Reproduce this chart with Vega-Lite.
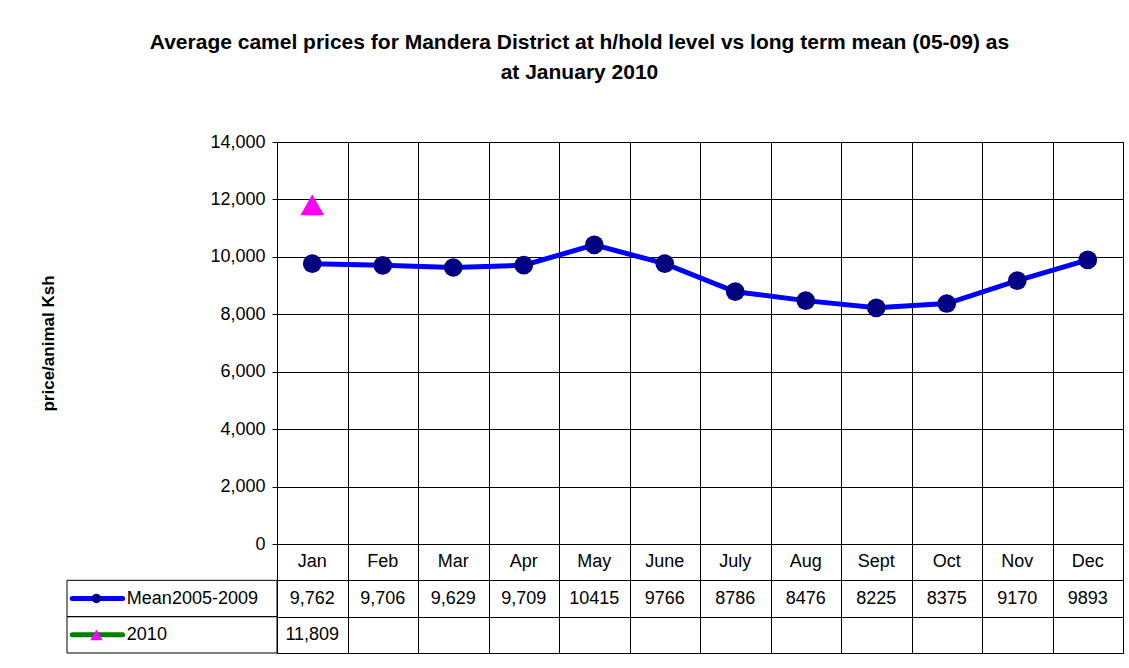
{
  "$schema": "https://vega.github.io/schema/vega-lite/v6.json",
  "background": "white",
  "padding": {"left": 39, "top": 31, "right": 4, "bottom": 2},
  "config": {
    "font": "Liberation Sans",
    "view": {"stroke": "black", "strokeWidth": 1},
    "axis": {"labelColor": "black", "titleColor": "black"}
  },
  "title": {
    "text": ["Average camel prices for Mandera District at h/hold level vs long term mean (05-09)  as", "at January 2010"],
    "font": "Liberation Sans",
    "fontSize": 21,
    "fontWeight": "bold",
    "color": "black",
    "lineHeight": 30,
    "anchor": "middle",
    "offset": 50,
    "dx": -2
  },
  "datasets": {
    "prices": [
      {"month": "Jan", "series": "Mean2005-2009", "value": 9762, "label": "9,762"},
      {"month": "Feb", "series": "Mean2005-2009", "value": 9706, "label": "9,706"},
      {"month": "Mar", "series": "Mean2005-2009", "value": 9629, "label": "9,629"},
      {"month": "Apr", "series": "Mean2005-2009", "value": 9709, "label": "9,709"},
      {"month": "May", "series": "Mean2005-2009", "value": 10415, "label": "10415"},
      {"month": "June", "series": "Mean2005-2009", "value": 9766, "label": "9766"},
      {"month": "July", "series": "Mean2005-2009", "value": 8786, "label": "8786"},
      {"month": "Aug", "series": "Mean2005-2009", "value": 8476, "label": "8476"},
      {"month": "Sept", "series": "Mean2005-2009", "value": 8225, "label": "8225"},
      {"month": "Oct", "series": "Mean2005-2009", "value": 8375, "label": "8375"},
      {"month": "Nov", "series": "Mean2005-2009", "value": 9170, "label": "9170"},
      {"month": "Dec", "series": "Mean2005-2009", "value": 9893, "label": "9893"},
      {"month": "Jan", "series": "2010", "value": 11809, "label": "11,809"}
    ]
  },
  "columns": 2,
  "spacing": {"row": 0, "column": 0},
  "bounds": "flush",
  "concat": [
    {
      "width": 210,
      "height": 402,
      "view": {"stroke": null},
      "data": {"values": []},
      "mark": "point",
      "encoding": {}
    },
    {
      "width": 846,
      "height": 402,
      "data": {"name": "prices"},
      "encoding": {
        "x": {
          "field": "month",
          "type": "nominal",
          "sort": ["Jan", "Feb", "Mar", "Apr", "May", "June", "July", "Aug", "Sept", "Oct", "Nov", "Dec"],
          "scale": {"domain": ["Jan", "Feb", "Mar", "Apr", "May", "June", "July", "Aug", "Sept", "Oct", "Nov", "Dec"], "paddingInner": 0, "paddingOuter": 0},
          "axis": {"labels": false, "ticks": false, "title": null, "domainColor": "black", "grid": true, "gridColor": "black", "gridOpacity": 1, "tickBand": "extent"}
        },
        "y": {
          "field": "value",
          "type": "quantitative",
          "scale": {"domain": [0, 14000], "nice": false},
          "axis": {
            "values": [0, 2000, 4000, 6000, 8000, 10000, 12000, 14000],
            "format": ",.0f",
            "title": "price/animal Ksh",
            "titleFontSize": 17,
            "titleFontWeight": "bold",
            "titlePadding": 152,
            "labelFontSize": 18,
            "labelPadding": 7,
            "tickSize": 5,
            "tickColor": "black",
            "domainColor": "black",
            "grid": true,
            "gridColor": "black",
            "gridOpacity": 1
          }
        }
      },
      "layer": [
        {
          "transform": [{"filter": "datum.series === 'Mean2005-2009'"}],
          "mark": {"type": "line", "color": "#0000FF", "strokeWidth": 5}
        },
        {
          "transform": [{"filter": "datum.series === 'Mean2005-2009'"}],
          "mark": {"type": "point", "shape": "circle", "filled": true, "color": "#000080", "size": 350, "opacity": 1}
        },
        {
          "transform": [{"filter": "datum.series === '2010'"}],
          "mark": {"type": "point", "shape": "triangle-up", "filled": true, "color": "#FF00FF", "size": 570, "opacity": 1}
        }
      ]
    },
    {
      "width": 210,
      "height": 109,
      "view": {"stroke": null},
      "data": {"name": "prices"},
      "transform": [{"filter": "datum.month === 'Jan'"}],
      "encoding": {
        "y": {
          "field": "series",
          "type": "nominal",
          "scale": {"domain": ["hdr", "Mean2005-2009", "2010"], "paddingInner": 0, "paddingOuter": 0},
          "axis": null
        }
      },
      "layer": [
        {
          "mark": {"type": "rect", "fillOpacity": 0, "stroke": "black", "strokeWidth": 1},
          "encoding": {
            "x": {"datum": 0, "type": "quantitative", "scale": {"domain": [0, 1]}, "axis": null},
            "x2": {"datum": 1}
          }
        },
        {
          "transform": [{"filter": "datum.series === 'Mean2005-2009'"}],
          "mark": {"type": "rule", "color": "#0000FF", "strokeWidth": 5, "strokeCap": "round"},
          "encoding": {"x": {"datum": 0.025, "type": "quantitative"}, "x2": {"datum": 0.265}}
        },
        {
          "transform": [{"filter": "datum.series === '2010'"}],
          "mark": {"type": "rule", "color": "#008000", "strokeWidth": 5, "strokeCap": "round"},
          "encoding": {"x": {"datum": 0.025, "type": "quantitative"}, "x2": {"datum": 0.265}}
        },
        {
          "transform": [{"filter": "datum.series === 'Mean2005-2009'"}],
          "mark": {"type": "point", "shape": "circle", "filled": true, "color": "#000080", "size": 90, "opacity": 1},
          "encoding": {"x": {"datum": 0.14, "type": "quantitative"}}
        },
        {
          "transform": [{"filter": "datum.series === '2010'"}],
          "mark": {"type": "point", "shape": "triangle-up", "filled": true, "color": "#FF00FF", "size": 150, "opacity": 1},
          "encoding": {"x": {"datum": 0.14, "type": "quantitative"}}
        },
        {
          "mark": {"type": "text", "align": "left", "fontSize": 18, "color": "black"},
          "encoding": {"x": {"datum": 0.285, "type": "quantitative"}, "text": {"field": "series"}}
        }
      ]
    },
    {
      "width": 846,
      "height": 109,
      "data": {"name": "prices"},
      "encoding": {
        "x": {
          "field": "month",
          "type": "nominal",
          "sort": ["Jan", "Feb", "Mar", "Apr", "May", "June", "July", "Aug", "Sept", "Oct", "Nov", "Dec"],
          "scale": {"domain": ["Jan", "Feb", "Mar", "Apr", "May", "June", "July", "Aug", "Sept", "Oct", "Nov", "Dec"], "paddingInner": 0, "paddingOuter": 0},
          "axis": {"labels": false, "ticks": false, "domain": false, "title": null, "grid": true, "gridColor": "black", "gridOpacity": 1, "tickBand": "extent"}
        },
        "y": {
          "field": "series",
          "type": "nominal",
          "scale": {"domain": ["hdr", "Mean2005-2009", "2010"], "paddingInner": 0, "paddingOuter": 0},
          "axis": {"labels": false, "ticks": false, "domain": false, "title": null, "grid": true, "gridColor": "black", "gridOpacity": 1, "tickBand": "extent"}
        }
      },
      "layer": [
        {
          "mark": {"type": "text", "fontSize": 18, "color": "black"},
          "encoding": {"text": {"field": "label"}}
        },
        {
          "transform": [{"filter": "datum.series === 'Mean2005-2009'"}],
          "mark": {"type": "text", "fontSize": 18, "color": "black"},
          "encoding": {"y": {"datum": "hdr", "type": "nominal"}, "text": {"field": "month"}}
        }
      ]
    }
  ]
}
